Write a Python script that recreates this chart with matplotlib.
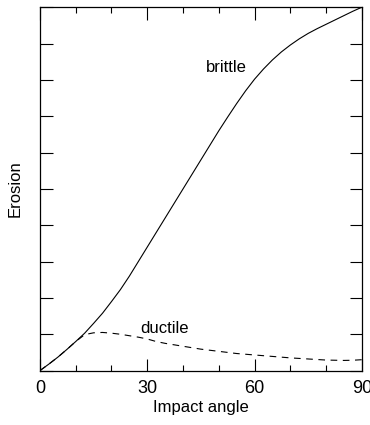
import matplotlib
matplotlib.use('Agg')
import matplotlib.pyplot as plt
from matplotlib.ticker import MultipleLocator, NullFormatter

plt.rcParams['font.family'] = ['Liberation Sans', 'DejaVu Sans']

# impact angle in degrees
angles = [0, 2.5, 5, 7.5, 10, 12.5, 15, 17.5, 20, 22.5, 25, 27.5, 30, 32.5, 35, 37.5, 40, 42.5, 45,
          47.5, 50, 52.5, 55, 57.5, 60, 62.5, 65, 67.5, 70, 72.5, 75, 77.5, 80, 82.5, 85, 87.5, 90]
# erosion, arbitrary units
brittle = [0, 0.18, 0.37, 0.58, 0.8, 1.03, 1.3, 1.58, 1.9, 2.23, 2.6, 3.0, 3.4, 3.8, 4.2, 4.6, 5.0, 5.4, 5.8,
           6.2, 6.6, 6.98, 7.35, 7.7, 8.02, 8.3, 8.55, 8.77, 8.96, 9.13, 9.28, 9.41, 9.53, 9.65, 9.77, 9.89, 10.0]
ductile = [0, 0.18, 0.37, 0.58, 0.8, 0.99, 1.04, 1.05, 1.03, 1.0, 0.96, 0.92, 0.87, 0.8, 0.75, 0.71, 0.67, 0.63, 0.59,
           0.56, 0.53, 0.5, 0.47, 0.45, 0.43, 0.41, 0.39, 0.37, 0.35, 0.335, 0.32, 0.305, 0.29, 0.285, 0.28, 0.285, 0.3]
xticks = [0, 30, 60, 90]

dpi = 100
fig = plt.figure(figsize=(370 / dpi, 425 / dpi), dpi=dpi)
ax = fig.add_axes([0.108, 0.128, 0.87, 0.855])

ax.plot(angles, brittle, color='black', linewidth=0.8)
ax.plot(angles, ductile, color='black', linewidth=0.8, dashes=(6, 5))

ax.text(46.5, 8.35, 'brittle', fontsize=12, va='center', ha='left')
ax.text(28, 1.15, 'ductile', fontsize=12, va='center', ha='left')

ax.set_xlim(0, 90)
ax.set_ylim(0, 10)
ax.set_xticks(xticks)
ax.xaxis.set_minor_locator(MultipleLocator(10))
ax.yaxis.set_major_locator(MultipleLocator(1))
ax.yaxis.set_major_formatter(NullFormatter())
ax.tick_params(axis='both', which='both', direction='in', top=True, right=True, width=0.8)
ax.tick_params(axis='x', which='major', length=9, labelsize=13, pad=7)
ax.tick_params(axis='x', which='minor', length=4.5)
ax.tick_params(axis='y', which='major', length=9)
for s in ax.spines.values():
    s.set_linewidth(0.9)

ax.set_xlabel('Impact angle', fontsize=12, labelpad=2)
ax.set_ylabel('Erosion', fontsize=12, labelpad=9)

fig.savefig('out.png', dpi=dpi)
